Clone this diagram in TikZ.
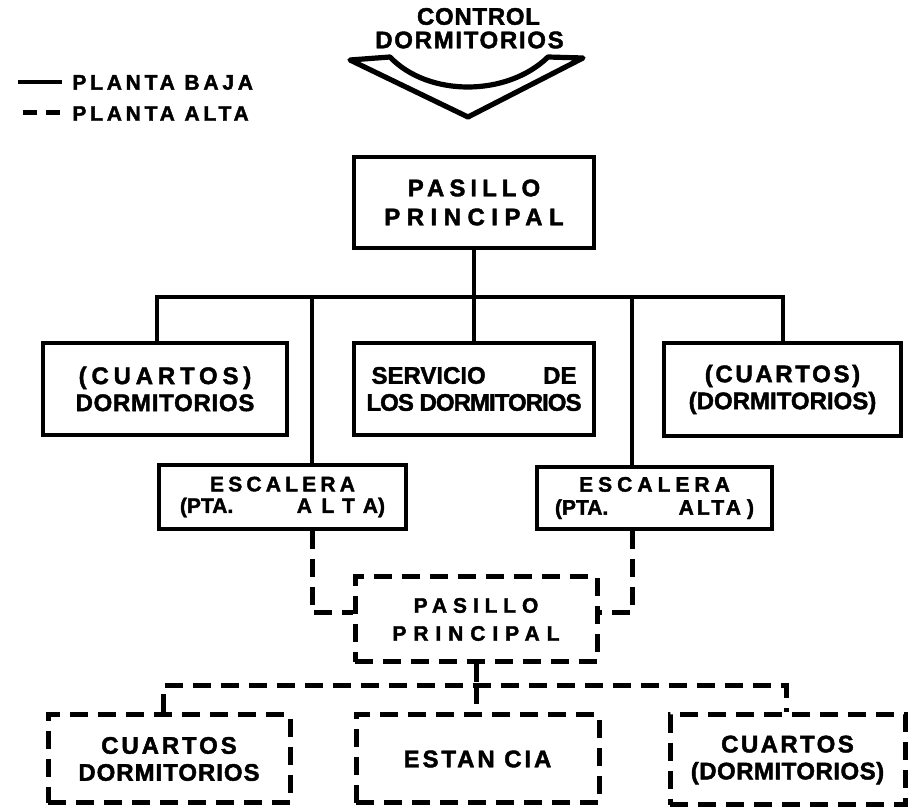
\documentclass[tikz,border=0pt]{standalone}
\usepackage{fontspec}
\setmainfont{Liberation Sans}[BoldFeatures={FakeBold=1.8}]
\newcommand\LS[2]{{\addfontfeatures{LetterSpace=#1}#2}}
\begin{document}
\begin{tikzpicture}[x=0.5pt,y=-0.5pt,
  solidbox/.style={draw, line width=2.3pt, inner sep=0pt, align=center,
    font=\bfseries\fontsize{12}{13.5}\selectfont},
  dashbox/.style={solidbox, line width=2.5pt, dash pattern=on 9pt off 5pt},
  solidline/.style={line width=2.3pt},
  dashline/.style={line width=2.5pt, dash pattern=on 9pt off 5pt},
  lbl/.style={font=\bfseries\fontsize{10.5}{12}\selectfont, inner sep=0pt},
  ttl/.style={font=\bfseries\fontsize{12}{14}\selectfont, inner sep=0pt}]
\useasboundingbox (0,0) rectangle (918,807);

% legend
\coordinate (lg1a) at (18,82); \coordinate (lg1b) at (62,82);
\draw[solidline] (lg1a) -- (lg1b);
\node[lbl, anchor=west] (lgt1) at (72,82.5) {\LS{18}{PLANTA BAJA}};
\coordinate (lg2a) at (23,113); \coordinate (lg2b) at (60,113);
\draw[line width=2.5pt, dash pattern=on 7pt off 4.5pt] (lg2a) -- (lg2b);
\node[lbl, anchor=west] (lgt2) at (72,113.5) {\LS{18}{PLANTA ALTA}};

% title + chevron
\node[ttl] (ctl) at (478.5,16.5) {\LS{3}{CONTROL}};
\node[ttl] (dorm) at (469.5,40) {\LS{7}{DORMITORIOS}};
\draw[line width=2.6pt, line join=round] (350,60) -- (390,57)
  .. controls (428,97) and (507,97) .. (548,57) -- (583,58) -- (468,117) -- cycle;

% solid boxes
\node[solidbox, minimum width=120pt, minimum height=45.5pt,
  font=\bfseries\fontsize{12}{14.5}\selectfont] (top) at (474,202.5)
  {\LS{21}{PASILLO}\\\LS{27}{PRINCIPAL}};
\node[solidbox, minimum width=122pt, minimum height=46pt] (L1) at (165,389)
  {\LS{20}{(CUARTOS)}\\\LS{3}{DORMITORIOS}};
\node[solidbox, minimum width=120pt, minimum height=46pt] (S1) at (474,389)
  {\makebox[102.5pt]{SERVICIO\hfill DE}\\\LS{-4}{LOS DORMITORIOS}};
\node[solidbox, minimum width=118.5pt, minimum height=46.5pt] (R1) at (782.5,389.5)
  {\LS{11}{(CUARTOS)}\\(DORMITORIOS)};
\node[solidbox, minimum width=123.5pt, minimum height=32pt,
  font=\bfseries\fontsize{10.5}{10.8}\selectfont] (EL) at (282.5,497)
  {\LS{20}{ESCALERA}\\\makebox[102.5pt]{(PTA.\hfill\LS{45}{ALTA})}};
\node[solidbox, minimum width=117.5pt, minimum height=31pt,
  font=\bfseries\fontsize{10.5}{11.5}\selectfont] (ER) at (654.5,498)
  {\LS{24}{ESCALERA}\\\makebox[99.5pt]{(PTA.\hfill\LS{15}{ALTA}\hspace{3pt})}};

% dashed boxes
\node[dashbox, minimum width=121pt, minimum height=42.5pt,
  font=\bfseries\fontsize{10.5}{14}\selectfont] (P2) at (476,619.5)
  {\LS{28}{PASILLO}\\\LS{33}{PRINCIPAL}};
\node[dashbox, minimum width=121pt, minimum height=44pt] (BL) at (169,759)
  {\LS{12}{CUARTOS}\\\LS{4}{DORMITORIOS}};
\node[dashbox, minimum width=121.5pt, minimum height=44pt] (BM) at (477.5,759)
  {\LS{12}{ESTAN CIA}};
\node[dashbox, minimum width=117.5pt, minimum height=45pt] (BR) at (787.5,760)
  {\LS{10}{CUARTOS}\\\LS{2}{(DORMITORIOS)}};

% solid connectors
\coordinate (busL) at (157,297);
\coordinate (busR) at (783,297);
\coordinate (stL) at (312,297);
\coordinate (stR) at (632,297);
\draw[solidline] (top.south) -- (top.south |- busL);
\draw[solidline] (busL |- L1.north) -- (busL) -- (busR) -- (busR |- R1.north);
\draw[solidline] (S1.north) -- (S1.north |- busL);
\draw[solidline] (stL) -- (stL |- EL.north);
\draw[solidline] (stR) -- (stR |- ER.north);

% dashed connectors
\coordinate (jL) at (312,613);
\coordinate (jR) at (632,613);
\draw[dashline] (stL |- EL.south) -- (jL) -- (jL -| P2.west);
\draw[dashline] (stR |- ER.south) -- (jR) -- (jR -| P2.east);
\coordinate (dbL) at (163,686);
\coordinate (dbR) at (786,686);
\draw[dashline] (P2.south) -- (P2.south |- dbL);
\draw[dashline] (dbL |- BL.north) -- (dbL) -- (dbR) -- (dbR |- BR.north);
\draw[dashline] (P2.south |- dbL) -- (P2.south |- BM.north);
\end{tikzpicture}
\end{document}
